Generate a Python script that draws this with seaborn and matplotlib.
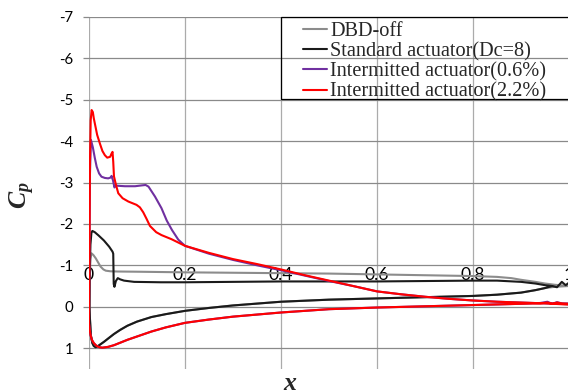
import numpy as np
import pandas as pd
import matplotlib
matplotlib.use("Agg")
import matplotlib.pyplot as plt
from matplotlib.patches import Rectangle
import seaborn as sns

# ---- data: pressure coefficient along chord (upper / lower surface) ----
series_names = ["DBD-off", "Standard actuator(Dc=8)",
                "Intermitted actuator(0.6%)", "Intermitted actuator(2.2%)"]
series_colors = ["#8c8c8c", "#1a1a1a", "#7030a0", "#ff0000"]

off_x_up = [0.001, 0.0015, 0.003, 0.005, 0.009, 0.014, 0.019, 0.024, 0.03, 0.035, 0.045,
            0.06, 0.1, 0.2, 0.3, 0.4, 0.5, 0.6, 0.7, 0.8, 0.85, 0.88, 0.9, 0.93, 0.95, 0.97, 1.0]
off_cp_up = [0.0, -0.7, -1.15, -1.29, -1.25, -1.17, -1.07, -0.97, -0.9, -0.87, -0.855,
             -0.85, -0.845, -0.83, -0.82, -0.81, -0.8, -0.78, -0.76, -0.74, -0.72, -0.69,
             -0.65, -0.6, -0.56, -0.53, -0.5]
off_x_lo = [0.001, 0.002, 0.004, 0.007, 0.01, 0.014, 0.02, 0.031, 0.042, 0.052, 0.065, 0.08,
            0.1, 0.13, 0.16, 0.2, 0.25, 0.3, 0.4, 0.5, 0.6, 0.7, 0.8, 0.85, 0.9, 0.93, 0.95,
            0.97, 1.0]
off_cp_lo = [0.0, 0.3, 0.7, 0.88, 0.95, 0.98, 0.94, 0.85, 0.75, 0.66, 0.56, 0.46, 0.36, 0.25,
             0.18, 0.1, 0.03, -0.03, -0.12, -0.17, -0.2, -0.23, -0.26, -0.29, -0.34, -0.4,
             -0.45, -0.48, -0.5]

std_x_up = [0.001, 0.0015, 0.003, 0.005, 0.007, 0.012, 0.02, 0.031, 0.042, 0.049, 0.0505,
            0.0515, 0.053, 0.056, 0.06, 0.065, 0.073, 0.094, 0.15, 0.2, 0.3, 0.4, 0.5, 0.6,
            0.7, 0.8, 0.85, 0.9, 0.93, 0.95, 0.965, 0.975, 0.985, 0.993, 1.0]
std_cp_up = [0.0, -0.8, -1.5, -1.78, -1.83, -1.8, -1.72, -1.6, -1.45, -1.33, -1.28,
             -0.55, -0.48, -0.62, -0.69, -0.66, -0.63, -0.6, -0.59, -0.59, -0.6, -0.61,
             -0.61, -0.61, -0.62, -0.63, -0.63, -0.6, -0.56, -0.52, -0.5, -0.47, -0.6,
             -0.52, -0.58]
std_x_lo = [0.001, 0.002, 0.004, 0.007, 0.01, 0.014, 0.02, 0.031, 0.042, 0.052, 0.065, 0.08,
            0.1, 0.13, 0.16, 0.2, 0.25, 0.3, 0.4, 0.5, 0.6, 0.7, 0.8, 0.85, 0.9, 0.93, 0.95,
            0.965]
std_cp_lo = [0.0, 0.3, 0.7, 0.88, 0.95, 0.98, 0.94, 0.85, 0.75, 0.66, 0.56, 0.46, 0.36, 0.25,
             0.18, 0.1, 0.03, -0.03, -0.12, -0.17, -0.2, -0.23, -0.26, -0.29, -0.34, -0.4,
             -0.45, -0.5]

i06_x_up = [0.0, 0.001, 0.002, 0.004, 0.008, 0.012, 0.016, 0.021, 0.026, 0.033, 0.04, 0.045,
            0.047, 0.05, 0.053, 0.056, 0.061, 0.075, 0.096, 0.11, 0.118, 0.124, 0.1375,
            0.151, 0.162, 0.173, 0.186, 0.2, 0.25, 0.3, 0.35, 0.4, 0.45, 0.5, 0.55, 0.6,
            0.65, 0.7, 0.75, 0.8, 0.85, 0.9, 0.95, 1.0]
i06_cp_up = [0.4, -1.5, -3.2, -4.03, -3.85, -3.6, -3.38, -3.22, -3.14, -3.11, -3.1, -3.12,
             -3.16, -3.05, -2.88, -2.93, -2.92, -2.91, -2.91, -2.93, -2.94, -2.9, -2.66,
             -2.38, -2.08, -1.85, -1.62, -1.47, -1.28, -1.13, -1.0, -0.88, -0.75, -0.62,
             -0.5, -0.37, -0.3, -0.24, -0.19, -0.15, -0.12, -0.1, -0.08, -0.06]
i06_x_lo = [0.0, 0.002, 0.0035, 0.006, 0.01, 0.016, 0.022, 0.028, 0.04, 0.052, 0.065, 0.08,
            0.095, 0.11, 0.13, 0.16, 0.2, 0.25, 0.3, 0.35, 0.4, 0.5, 0.6, 0.7, 0.8, 0.9,
            0.94, 0.955, 0.965, 0.975, 0.985, 1.0]
i06_cp_lo = [0.4, 0.6, 0.7, 0.8, 0.88, 0.95, 0.98, 0.99, 0.97, 0.93, 0.87, 0.8, 0.74, 0.68,
             0.6, 0.5, 0.39, 0.31, 0.24, 0.19, 0.14, 0.06, 0.02, -0.01, -0.04, -0.07, -0.09,
             -0.12, -0.07, -0.11, -0.08, -0.08]

i22_x_up = [0.0, 0.001, 0.002, 0.0035, 0.0055, 0.008, 0.01, 0.017, 0.023, 0.028, 0.033,
            0.038, 0.044, 0.047, 0.049, 0.0505, 0.052, 0.056, 0.061, 0.07, 0.082, 0.099,
            0.106, 0.113, 0.12, 0.127, 0.14, 0.151, 0.172, 0.2, 0.25, 0.3, 0.35, 0.4, 0.45,
            0.5, 0.55, 0.6, 0.65, 0.7, 0.75, 0.8, 0.85, 0.9, 0.95, 1.0]
i22_cp_up = [0.4, -1.5, -3.5, -4.5, -4.75, -4.7, -4.55, -4.15, -3.93, -3.76, -3.66, -3.6,
             -3.62, -3.7, -3.74, -3.5, -3.15, -2.95, -2.74, -2.62, -2.54, -2.46, -2.4,
             -2.28, -2.12, -1.95, -1.8, -1.73, -1.63, -1.47, -1.3, -1.15, -1.03, -0.9,
             -0.76, -0.63, -0.5, -0.37, -0.3, -0.24, -0.19, -0.15, -0.12, -0.1, -0.08,
             -0.05]
i22_x_lo = [0.0, 0.002, 0.0035, 0.006, 0.01, 0.016, 0.022, 0.028, 0.04, 0.052, 0.065, 0.08,
            0.095, 0.11, 0.13, 0.16, 0.2, 0.25, 0.3, 0.35, 0.4, 0.5, 0.6, 0.7, 0.8, 0.9,
            0.94, 0.955, 0.965, 0.975, 0.985, 1.0]
i22_cp_lo = [0.4, 0.6, 0.7, 0.8, 0.88, 0.95, 0.98, 0.99, 0.97, 0.93, 0.87, 0.8, 0.74, 0.68,
             0.6, 0.5, 0.39, 0.31, 0.24, 0.19, 0.14, 0.06, 0.02, -0.01, -0.04, -0.07, -0.08,
             -0.1, -0.07, -0.1, -0.08, -0.07]

x_ticks = [0, 0.2, 0.4, 0.6, 0.8, 1.0]
x_tick_labels = ["0", "0.2", "0.4", "0.6", "0.8", "1"]
y_ticks = [-7, -6, -5, -4, -3, -2, -1, 0, 1]
y_tick_labels = ["-7", "-6", "-5", "-4", "-3", "-2", "-1", "0", "1"]

surfaces = [
    (off_x_up, off_cp_up, off_x_lo, off_cp_lo),
    (std_x_up, std_cp_up, std_x_lo, std_cp_lo),
    (i06_x_up, i06_cp_up, i06_x_lo, i06_cp_lo),
    (i22_x_up, i22_cp_up, i22_x_lo, i22_cp_lo),
]

# one closed path per case: trailing edge -> lower surface -> leading edge -> upper surface
frames = []
for name, (xu, cu, xl, cl) in zip(series_names, surfaces):
    xs = list(xl[::-1]) + list(xu)
    cs = list(cl[::-1]) + list(cu)
    frames.append(pd.DataFrame({"x": xs, "cp": cs, "case": name,
                                "order": np.arange(len(xs))}))
df = pd.concat(frames, ignore_index=True)

# ---- figure ----
sns.set_style("white")
plt.rcParams["mathtext.fontset"] = "custom"
plt.rcParams["mathtext.it"] = "Liberation Serif:italic:bold"
plt.rcParams["mathtext.rm"] = "Liberation Serif:bold"

W, H = 568, 391
fig = plt.figure(figsize=(W / 100, H / 100), dpi=100)
ax = fig.add_axes([89 / W, 22.2 / H, 480 / W, 351.9 / H])

for name, color in zip(series_names, series_colors):
    sub = df[df["case"] == name]
    sns.lineplot(data=sub, x="x", y="cp", sort=False, estimator=None, color=color,
                 lw=1.5, label=name, ax=ax, legend=False)

ax.set_xlim(0, 1.0)
ax.set_ylim(1.5, -7)
ax.set_xticks(x_ticks)
ax.set_xticklabels(x_tick_labels)
ax.set_yticks(y_ticks)
ax.set_yticklabels(y_tick_labels)
ax.set_xlabel("")
ax.set_ylabel("")

for s in ax.spines.values():
    s.set_visible(False)
ax.spines["bottom"].set_position(("data", -1))

ax.grid(False)
for xv in x_ticks:
    ax.axvline(xv, color="#ababab", lw=0.9, zorder=0)
for yv in y_ticks:
    ax.axhline(yv, color="#8a8a8a", lw=0.9, zorder=0)

ax.tick_params(axis="y", left=True, length=4.3, width=0.9, color="#8a8a8a", pad=7,
               labelsize=10.8, labelcolor="black")
ax.tick_params(axis="x", bottom=True, length=0, pad=1.2, labelsize=12.7,
               labelcolor="black")
for lab in ax.get_xticklabels() + ax.get_yticklabels():
    lab.set_family(["Lato", "DejaVu Sans"])

# axis titles
fig.text(22 / W, 1 - 195 / H, r"$C_p$", rotation=90, fontsize=18.5,
         ha="center", va="center")
fig.text(290 / W, 1 - 383 / H, "x", fontsize=18.5, fontstyle="italic",
         fontweight="bold", family="Liberation Serif", ha="center", va="center")

# legend with a frame running past the right edge
handles, labels = ax.get_legend_handles_labels()
leg = fig.legend(handles, labels, loc="upper left",
                 bbox_to_anchor=(303 / W, 1 - 21.8 / H),
                 bbox_transform=fig.transFigure, frameon=False,
                 prop={"family": "Liberation Serif", "size": 14.6},
                 borderpad=0, borderaxespad=0, handlelength=1.18,
                 handletextpad=0.15, labelspacing=0.05)
fig.patches.append(Rectangle((281 / W, 1 - 99 / H), 400 / W, (99 - 16.7) / H,
                             transform=fig.transFigure, fill=False,
                             edgecolor="black", lw=0.9))

fig.savefig("out.png", dpi=100)
